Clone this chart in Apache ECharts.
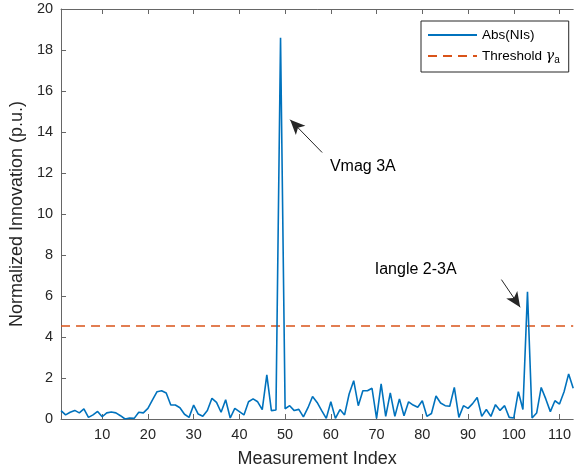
<!DOCTYPE html>
<html>
<head>
<meta charset="utf-8">
<script src="https://cdn.jsdelivr.net/npm/echarts@6/dist/echarts.min.js"></script>
<style>
  html, body { margin: 0; padding: 0; background: #ffffff; }
  #chart { width: 574px; height: 473px; }
</style>
</head>
<body>
<div id="chart"></div>
<script>
// Measurement indices and the absolute normalized innovations at each one
const measurementIndex = [
  1, 2, 3, 4, 5, 6, 7, 8, 9, 10, 11, 12, 13, 14, 15, 16, 17, 18, 19, 20,
  21, 22, 23, 24, 25, 26, 27, 28, 29, 30, 31, 32, 33, 34, 35, 36, 37, 38, 39, 40,
  41, 42, 43, 44, 45, 46, 47, 48, 49, 50, 51, 52, 53, 54, 55, 56, 57, 58, 59, 60,
  61, 62, 63, 64, 65, 66, 67, 68, 69, 70, 71, 72, 73, 74, 75, 76, 77, 78, 79, 80,
  81, 82, 83, 84, 85, 86, 87, 88, 89, 90, 91, 92, 93, 94, 95, 96, 97, 98, 99, 100,
  101, 102, 103, 104, 105, 106, 107, 108, 109, 110, 111, 112, 113
];
const absNIs = [
  0.41, 0.20, 0.33, 0.42, 0.30, 0.49, 0.08, 0.20, 0.37, 0.11,
  0.30, 0.34, 0.30, 0.16, 0.00, 0.05, 0.03, 0.33, 0.30, 0.52,
  0.93, 1.33, 1.38, 1.27, 0.68, 0.68, 0.55, 0.23, 0.08, 0.68,
  0.24, 0.13, 0.41, 1.01, 0.81, 0.33, 0.94, 0.05, 0.52, 0.36,
  0.20, 0.84, 0.98, 0.84, 0.46, 2.15, 0.41, 0.44, 18.6, 0.50,
  0.65, 0.41, 0.47, 0.10, 0.55, 1.10, 0.81, 0.41, 0.03, 0.84,
  0.03, 0.46, 0.20, 1.22, 1.87, 0.65, 1.38, 1.38, 1.50, 0.03,
  1.71, 0.13, 1.27, 0.13, 0.98, 0.16, 0.84, 0.68, 0.57, 0.89,
  0.13, 0.27, 1.12, 0.78, 0.65, 0.62, 1.54, 0.08, 0.65, 0.52,
  0.75, 1.05, 0.13, 0.46, 0.13, 0.70, 0.42, 0.65, 0.08, 0.05,
  1.33, 0.46, 6.20, 0.05, 0.29, 1.54, 0.98, 0.36, 0.89, 0.73,
  1.33, 2.20, 1.50
];
// Detection threshold gamma_a, drawn across the full index range
const thresholdIndex = [1, 113];
const thresholdGamma = [4.54, 4.54];

// Axis tick values
const xTicks = [10, 20, 30, 40, 50, 60, 70, 80, 90, 100, 110];
const yTicks = [0, 2, 4, 6, 8, 10, 12, 14, 16, 18, 20];

const FONT = '"Liberation Sans", Arial, Helvetica, sans-serif';
const AXIS_COLOR = '#666666';
const TEXT_COLOR = '#262626';

const chart = echarts.init(document.getElementById('chart'), null, { renderer: 'canvas' });

const lineData = measurementIndex.map((x, i) => [x, absNIs[i]]);
const thresholdData = thresholdIndex.map((x, i) => [x, thresholdGamma[i]]);

const baseX = {
  type: 'value',
  min: 1,
  max: 113,
  axisLine: { show: true, onZero: false, lineStyle: { color: AXIS_COLOR, width: 1 } },
  axisTick: { show: true, inside: true, length: 5, customValues: xTicks, lineStyle: { color: AXIS_COLOR } },
  splitLine: { show: false }
};

const option = {
  animation: false,
  backgroundColor: '#ffffff',
  textStyle: { fontFamily: FONT },
  grid: { left: 59, right: -3, top: 9, bottom: 53, containLabel: false },
  legend: {
    orient: 'vertical',
    left: 421,
    top: 21,
    padding: [7, 9, 7, 6],
    itemGap: 7,
    itemWidth: 49,
    itemHeight: 14,
    borderColor: '#262626',
    borderWidth: 1,
    backgroundColor: '#ffffff',
    itemStyle: { opacity: 0, borderWidth: 0 },
    textStyle: {
      color: '#000000', fontSize: 13.5, fontFamily: FONT,
      rich: {
        g: { fontSize: 14, fontStyle: 'italic', fontFamily: '"DejaVu Serif", serif', color: '#000000' },
        s: { fontSize: 10, color: '#000000', padding: [8, 0, 0, 0] }
      }
    },
    data: [
      { name: 'Abs(NIs)' },
      { name: 'Threshold' }
    ],
    formatter: function (name) {
      return name === 'Threshold' ? 'Threshold {g|γ}{s|a}' : name;
    }
  },
  xAxis: [
    Object.assign({}, baseX, {
      position: 'bottom',
      name: 'Measurement Index',
      nameLocation: 'middle',
      nameGap: 31,
      nameTextStyle: { color: TEXT_COLOR, fontSize: 18, fontFamily: FONT },
      axisLabel: { show: true, customValues: xTicks, color: TEXT_COLOR, fontSize: 14.5, fontFamily: FONT, margin: 8 }
    }),
    Object.assign({}, baseX, {
      position: 'top',
      axisLabel: { show: false }
    })
  ],
  yAxis: {
    type: 'value',
    min: 0,
    max: 20,
    interval: 2,
    name: 'Normalized Innovation (p.u.)',
    nameLocation: 'middle',
    nameGap: 35,
    nameTextStyle: { color: TEXT_COLOR, fontSize: 18, fontFamily: FONT },
    axisLine: { show: true, lineStyle: { color: AXIS_COLOR, width: 1 } },
    axisTick: { show: true, inside: true, length: 5, lineStyle: { color: AXIS_COLOR } },
    axisLabel: { color: TEXT_COLOR, fontSize: 14.5, fontFamily: FONT, margin: 8, customValues: yTicks },
    splitLine: { show: false }
  },
  series: [
    {
      name: 'Abs(NIs)',
      type: 'line',
      xAxisIndex: 0,
      data: lineData,
      showSymbol: false,
      symbol: 'none',
      lineStyle: { color: '#0072BD', width: 1.6 },
      itemStyle: { color: '#0072BD' },
      z: 3,
      markLine: {
        silent: true,
        symbol: ['none', 'arrow'],
        symbolSize: [10, 15],
        label: { show: false },
        lineStyle: { color: '#262626', width: 1, type: 'solid' },
        data: [
          [{ coord: [58.1, 13.0] }, { coord: [51.1, 14.6] }],
          [{ coord: [97.3, 6.8] }, { coord: [101.4, 5.45] }]
        ]
      },
      markPoint: {
        silent: true,
        symbol: 'circle',
        symbolSize: 0,
        label: {
          show: true,
          position: 'right',
          distance: 0,
          color: '#000000',
          fontSize: 16,
          fontFamily: FONT,
          formatter: '{b}'
        },
        data: [
          { name: 'Vmag 3A', coord: [59.8, 12.3] },
          { name: 'Iangle 2-3A', coord: [69.6, 7.3] }
        ]
      }
    },
    {
      name: 'Threshold',
      type: 'line',
      xAxisIndex: 0,
      data: thresholdData,
      showSymbol: false,
      symbol: 'none',
      lineStyle: { color: '#D95319', width: 1.5, type: [9, 6] },
      itemStyle: { color: '#D95319' },
      z: 2
    }
  ]
};

chart.setOption(option);
</script>
</body>
</html>
